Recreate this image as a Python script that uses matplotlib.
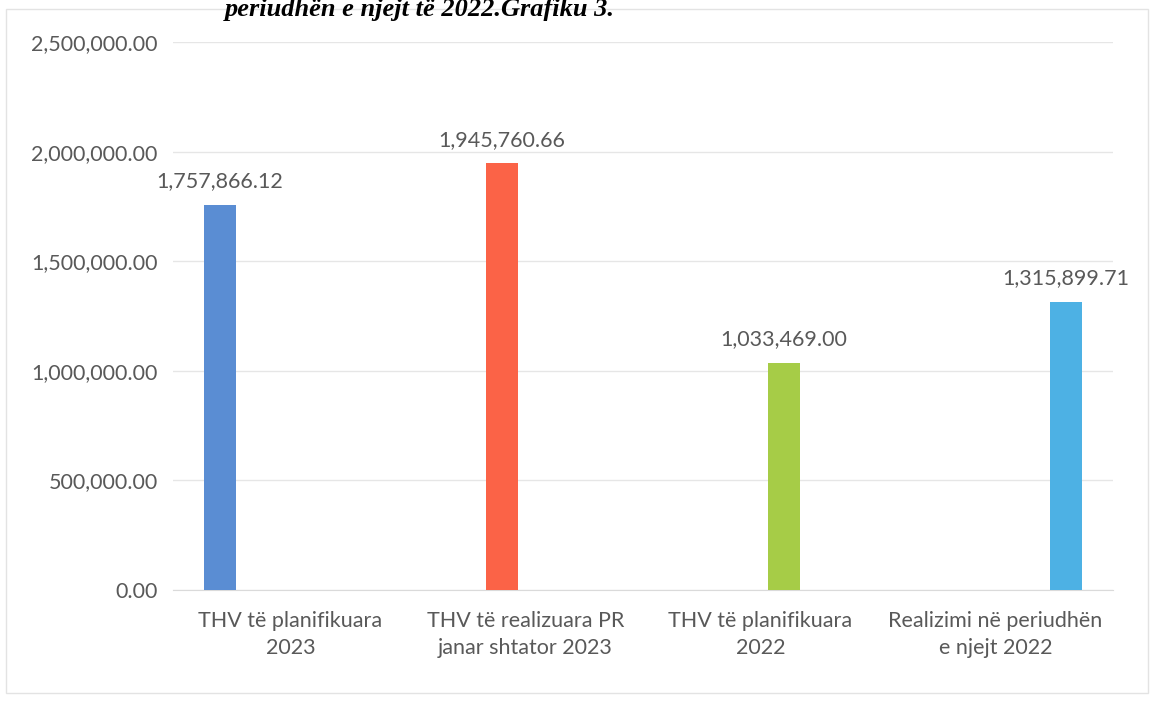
import matplotlib
matplotlib.use("Agg")
import matplotlib.pyplot as plt
import numpy as np
from matplotlib.patches import Rectangle

categories = ["THV të planifikuara\n2023", "THV të realizuara PR\njanar shtator 2023",
              "THV të planifikuara\n2022", "Realizimi në periudhën\ne njejt 2022"]
values = [1757866.12, 1945760.66, 1033469.00, 1315899.71]
colors = ["#5a8dd3", "#fb6347", "#a6cc47", "#4db1e4"]
yticks = [0, 500000, 1000000, 1500000, 2000000, 2500000]
title_text = "periudhën e njejt të 2022.Grafiku 3."

plt.rcParams['font.family'] = ['Lato', 'DejaVu Sans']
text_color = "#595959"
fs = 15.5

fig = plt.figure(figsize=(11.54, 7.07), dpi=100)
fig.patch.set_facecolor("white")
ax = fig.add_axes([173/1154, 117/707, 940/1154, 548/707])

n = len(categories)
x = np.arange(n)
slot = 0.2
bw = 0.135
for i, (v, c) in enumerate(zip(values, colors)):
    xi = x[i] + (i - (n - 1) / 2) * slot
    ax.bar(xi, v, width=bw, color=c, zorder=3)
    ax.annotate(f"{v:,.2f}", (xi, v), xytext=(0, 10), textcoords="offset points",
                ha="center", va="bottom", fontsize=fs, color=text_color)

ax.set_xlim(-0.5, n - 0.5)
ax.set_ylim(0, 2500000)
ax.set_yticks(yticks)
ax.set_yticklabels([f"{t:,.2f}" for t in yticks], fontsize=fs, color=text_color)
ax.set_xticks(x)
ax.set_xticklabels(categories, fontsize=fs, color=text_color, linespacing=1.45)
ax.tick_params(axis="both", length=0)
ax.tick_params(axis="y", pad=11)
ax.tick_params(axis="x", pad=15)
ax.grid(axis="y", color="#e6e6e6", linewidth=1, zorder=0)
for s in ax.spines.values():
    s.set_visible(False)
ax.spines["bottom"].set_visible(True)
ax.spines["bottom"].set_color("#dadada")

# chart border
fig.patches.append(Rectangle((6/1154, 14/707), 1142/1154, 684/707, transform=fig.transFigure,
                             fill=False, edgecolor="#e3e3e3", linewidth=1))

# cut-off title at top
fig.text(225/1154, 1 - 16/707, title_text, fontsize=19, fontweight="bold", fontstyle="italic",
         family=["Liberation Serif", "DejaVu Serif"], ha="left", va="baseline", color="black")

fig.savefig("out.png", dpi=100)
